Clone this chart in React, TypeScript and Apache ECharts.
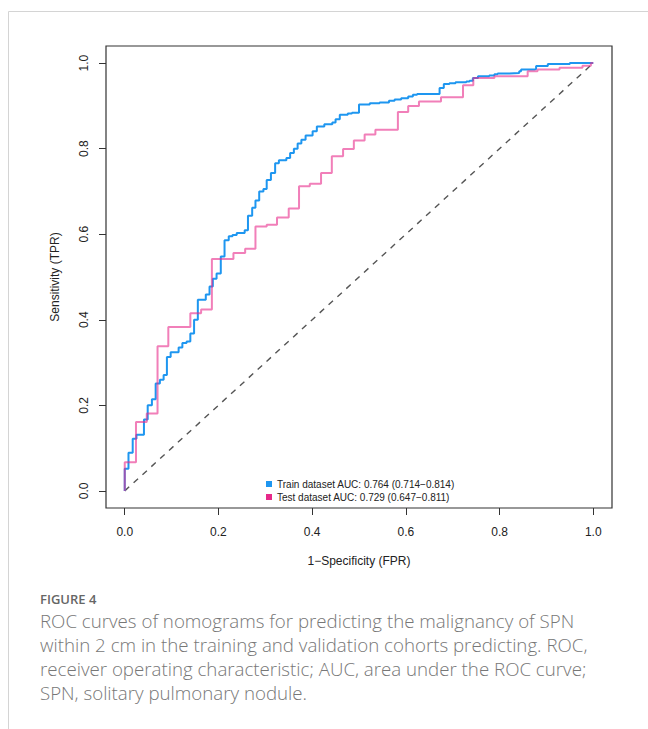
import React, { useEffect, useRef } from "react";
import * as echarts from "echarts";

// ROC curve vertices (step "end": horizontal then vertical rise)
const trainFpr = [0, 0, 0.008, 0.017, 0.025, 0.041, 0.049, 0.058, 0.066, 0.075, 0.083, 0.09, 0.098, 0.115, 0.123, 0.132, 0.14, 0.148, 0.156, 0.173, 0.181, 0.188, 0.196, 0.205, 0.213, 0.222, 0.23, 0.239, 0.256, 0.263, 0.272, 0.279, 0.287, 0.296, 0.303, 0.312, 0.321, 0.329, 0.345, 0.353, 0.361, 0.369, 0.377, 0.386, 0.401, 0.41, 0.426, 0.443, 0.45, 0.459, 0.476, 0.485, 0.5, 0.523, 0.544, 0.564, 0.576, 0.59, 0.605, 0.615, 0.624, 0.672, 0.681, 0.693, 0.706, 0.729, 0.736, 0.743, 0.754, 0.778, 0.789, 0.796, 0.821, 0.842, 0.846, 0.874, 0.878, 0.903, 0.95, 1.0];
const trainTpr = [0, 0.052, 0.089, 0.122, 0.131, 0.167, 0.2, 0.214, 0.251, 0.26, 0.271, 0.313, 0.324, 0.335, 0.346, 0.349, 0.368, 0.4, 0.447, 0.459, 0.478, 0.496, 0.508, 0.548, 0.586, 0.595, 0.598, 0.603, 0.609, 0.643, 0.662, 0.679, 0.7, 0.706, 0.727, 0.743, 0.766, 0.773, 0.778, 0.79, 0.8, 0.812, 0.821, 0.831, 0.841, 0.852, 0.857, 0.861, 0.869, 0.879, 0.882, 0.884, 0.903, 0.906, 0.908, 0.912, 0.915, 0.918, 0.922, 0.926, 0.928, 0.942, 0.951, 0.953, 0.955, 0.957, 0.959, 0.965, 0.969, 0.971, 0.974, 0.976, 0.977, 0.981, 0.985, 0.986, 0.993, 0.998, 1.0, 1.0];

const testFpr = [0, 0, 0.024, 0.047, 0.07, 0.093, 0.14, 0.163, 0.186, 0.232, 0.257, 0.279, 0.303, 0.325, 0.35, 0.372, 0.395, 0.419, 0.442, 0.466, 0.489, 0.512, 0.535, 0.583, 0.605, 0.628, 0.675, 0.722, 0.744, 0.789, 0.86, 0.881, 0.928, 0.977, 0.995, 1.0];
const testTpr = [0, 0.067, 0.161, 0.181, 0.338, 0.383, 0.415, 0.424, 0.542, 0.556, 0.566, 0.618, 0.622, 0.639, 0.66, 0.712, 0.718, 0.743, 0.782, 0.799, 0.819, 0.833, 0.844, 0.886, 0.9, 0.91, 0.92, 0.948, 0.965, 0.969, 0.981, 0.985, 0.989, 0.994, 1.0, 1.0];

const seriesNames = [
  "Train dataset AUC: 0.764 (0.714\u22120.814)",
  "Test dataset AUC: 0.729 (0.647\u22120.811)",
];
const xTicks = [0, 0.2, 0.4, 0.6, 0.8, 1.0];
const yTicks = [0, 0.2, 0.4, 0.6, 0.8, 1.0];
const axisRange = [-0.04, 1.04];
const xTitle = "1\u2212Specificity (FPR)";
const yTitle = "Sensitivity (TPR)";
const figureLabel = "FIGURE 4";
const captionLines = [
  "ROC curves of nomograms for predicting the malignancy of SPN",
  "within 2 cm in the training and validation cohorts predicting. ROC,",
  "receiver operating characteristic; AUC, area under the ROC curve;",
  "SPN, solitary pulmonary nodule.",
];

const BLUE = "#1E96F0";
const PINK = "#E7298A";
const FONT = "'Liberation Sans', Arial, Helvetica, sans-serif";

const zip = (a: number[], b: number[]) => a.map((v, i) => [v, b[i]]);

export default function App() {
  const ref = useRef<HTMLDivElement>(null);
  useEffect(() => {
    if (!ref.current) return;
    const chart = echarts.init(ref.current, null, { renderer: "svg" });
    const option: any = {
      animation: false,
      backgroundColor: "#ffffff",
      textStyle: { fontFamily: FONT },
      grid: {
        left: 106,
        right: 36,
        top: 46,
        bottom: 221,
        containLabel: false,
        show: true,
        borderColor: "#333",
        borderWidth: 1.2,
        backgroundColor: "transparent",
      },
      xAxis: {
        type: "value",
        min: axisRange[0],
        max: axisRange[1],
        axisLine: { show: false, onZero: false },
        axisTick: {
          show: true,
          length: 7,
          customValues: xTicks,
          lineStyle: { color: "#333", width: 1 },
        },
        splitLine: { show: false },
        axisLabel: {
          customValues: xTicks,
          margin: 18,
          fontSize: 12,
          color: "#222",
          fontFamily: FONT,
          formatter: (v: number) => v.toFixed(1),
        },
        name: xTitle,
        nameLocation: "middle",
        nameGap: 47,
        nameTextStyle: { fontSize: 12, color: "#222", fontFamily: FONT },
      },
      yAxis: {
        type: "value",
        min: axisRange[0],
        max: axisRange[1],
        axisLine: { show: false, onZero: false },
        axisTick: {
          show: true,
          length: 7,
          customValues: yTicks,
          lineStyle: { color: "#333", width: 1 },
        },
        splitLine: { show: false },
        axisLabel: {
          customValues: yTicks,
          rotate: 90,
          margin: 16,
          fontSize: 12,
          color: "#222",
          fontFamily: FONT,
          formatter: (v: number) => v.toFixed(1),
        },
        name: yTitle,
        nameLocation: "middle",
        nameGap: 45,
        nameTextStyle: { fontSize: 12, color: "#222", fontFamily: FONT },
      },
      legend: {
        orient: "vertical",
        left: 266,
        top: 478,
        itemWidth: 6,
        itemHeight: 6,
        itemGap: 1,
        padding: 0,
        icon: "rect",
        textStyle: { fontSize: 10, color: "#222", fontFamily: FONT, lineHeight: 12 },
        data: [
          { name: seriesNames[0], itemStyle: { color: BLUE, opacity: 1 } },
          { name: seriesNames[1], itemStyle: { color: PINK, opacity: 1 } },
        ],
      },
      series: [
        {
          name: "diag",
          type: "line",
          data: [[0, 0], [1, 1]],
          showSymbol: false,
          silent: true,
          lineStyle: { color: "#555", width: 1.4, type: [6, 6] },
          z: 1,
        },
        {
          name: seriesNames[0],
          type: "line",
          step: "end",
          data: zip(trainFpr, trainTpr),
          showSymbol: false,
          itemStyle: { color: BLUE },
          lineStyle: { color: BLUE, width: 2 },
          z: 2,
        },
        {
          name: seriesNames[1],
          type: "line",
          step: "end",
          data: zip(testFpr, testTpr),
          showSymbol: false,
          itemStyle: { color: PINK },
          lineStyle: { color: PINK, width: 2, opacity: 0.6 },
          z: 3,
        },
      ],
      graphic: [
        {
          type: "line",
          shape: { x1: 8.5, y1: 11.5, x2: 648, y2: 11.5 },
          style: { stroke: "#d4d4d4", lineWidth: 1 },
          silent: true,
        },
        {
          type: "line",
          shape: { x1: 8.5, y1: 11.5, x2: 8.5, y2: 729 },
          style: { stroke: "#d4d4d4", lineWidth: 1 },
          silent: true,
        },
        {
          type: "text",
          left: 40,
          top: 592,
          style: {
            text: figureLabel,
            font: "600 13px 'Open Sans', 'Noto Sans', sans-serif",
            fill: "#666",
          },
        },
        ...captionLines.map((line, i) => ({
          type: "text",
          left: 40,
          top: 611 + i * 24,
          style: {
            text: line,
            font: "300 18.7px 'Open Sans', 'Noto Sans', sans-serif",
            fill: "#777",
          },
        })),
      ],
    };
    chart.setOption(option);
    return () => chart.dispose();
  }, []);
  return (
    <div
      ref={ref}
      style={{ position: "absolute", left: 0, top: 0, width: 648, height: 729 }}
    />
  );
}
